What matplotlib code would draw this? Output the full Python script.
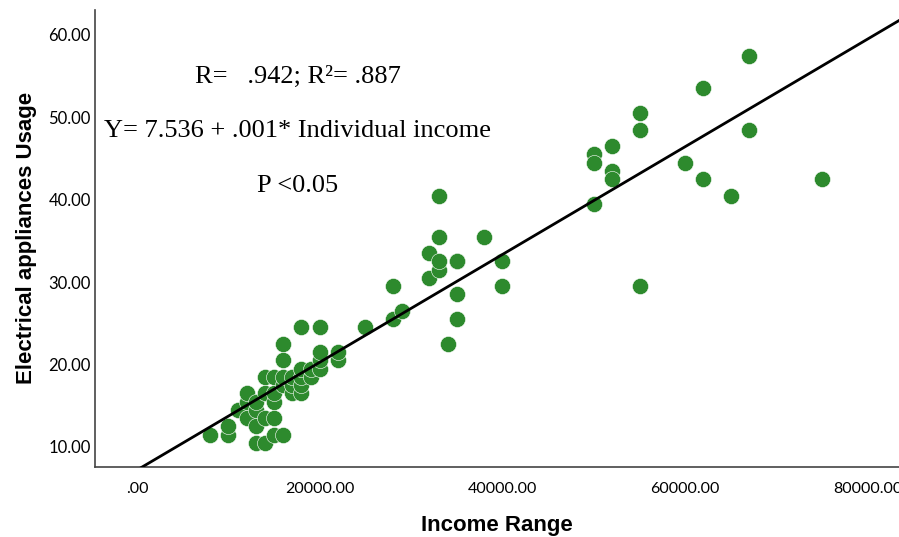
import numpy as np
import matplotlib
matplotlib.use('Agg')
import matplotlib.pyplot as plt

# income (x) and electrical appliances usage (y)
income = [8000, 10000, 10000, 11000, 12000, 12000, 12000,
          13000, 13000, 13000, 13000, 14000, 14000, 14000, 14000,
          15000, 15000, 15000, 15000, 15000, 16000, 16000, 16000,
          16000, 16000, 17000, 17000, 17000, 18000, 18000, 18000,
          18000, 18000, 19000, 19000, 20000, 20000, 20000, 20000,
          22000, 22000,
          25000, 28000, 28000, 29000, 32000, 32000, 33000, 33000,
          33000, 33000, 34000, 35000, 35000, 35000, 35000, 38000,
          40000, 40000,
          50000, 50000, 50000, 52000, 52000, 52000, 55000, 55000,
          55000, 60000, 62000, 62000, 65000, 67000, 67000, 75000]
usage = [11.5, 11.5, 12.5, 14.5, 13.5, 15.5, 16.5,
         10.5, 12.5, 14.5, 15.5, 10.5, 13.5, 16.5, 18.5,
         11.5, 13.5, 15.5, 16.5, 18.5, 11.5, 17.5, 18.5,
         20.5, 22.5, 16.5, 17.5, 18.5, 16.5, 17.5, 18.5,
         19.5, 24.5, 18.5, 19.5, 19.5, 20.5, 21.5, 24.5,
         20.5, 21.5,
         24.5, 25.5, 29.5, 26.5, 30.5, 33.5, 31.5, 32.5,
         35.5, 40.5, 22.5, 32.5, 28.5, 25.5, 32.5, 35.5,
         32.5, 29.5,
         45.5, 44.5, 39.5, 46.5, 43.5, 42.5, 50.5, 48.5,
         29.5, 44.5, 53.5, 42.5, 40.5, 57.5, 48.5, 42.5]

x_ticks = [0, 20000, 40000, 60000, 80000]
x_labels = ['.00', '20000.00', '40000.00', '60000.00', '80000.00']
y_ticks = [10, 20, 30, 40, 50, 60]
y_labels = ['10.00', '20.00', '30.00', '40.00', '50.00', '60.00']

fig = plt.figure(figsize=(8.99, 5.37), dpi=100)
ax = fig.add_axes([0.1057, 0.131, 0.8943, 0.85])

ax.scatter(income, usage, s=135, color='#2d8a2d', edgecolors='white',
           linewidths=0.4, zorder=3)

slope, intercept = np.polyfit(income, usage, 1)
xl = np.array([-5000, 90000])
ax.plot(xl, intercept + slope * xl, color='black', lw=2, zorder=4)

ax.set_xlim(-4600, 83400)
ax.set_ylim(7.6, 63.0)
ax.set_xticks(x_ticks)
ax.set_xticklabels(x_labels, fontfamily='Lato', fontsize=11.5)
ax.set_yticks(y_ticks)
ax.set_yticklabels(y_labels, fontfamily='Lato', fontsize=12)
ax.tick_params(length=0)
ax.tick_params(axis='y', pad=3)
ax.tick_params(axis='x', pad=11)
for s in ['top', 'right']:
    ax.spines[s].set_visible(False)
for s in ['left', 'bottom']:
    ax.spines[s].set_color('#444444')
    ax.spines[s].set_linewidth(1.2)

ax.set_xlabel('Income Range', fontfamily='Liberation Sans', fontweight='bold',
              fontsize=16, labelpad=14)
ax.set_ylabel('Electrical appliances Usage', fontfamily='Liberation Sans',
              fontweight='bold', fontsize=16, labelpad=8)

serif = 'Liberation Serif'
fig.text(298 / 899, 1 - 77 / 537, 'R=   .942; R²= .887', family=serif,
         fontsize=19, ha='center', va='center')
fig.text(298 / 899, 1 - 131 / 537, 'Y= 7.536 + .001* Individual income',
         family=serif, fontsize=19, ha='center', va='center')
fig.text(298 / 899, 1 - 186 / 537, 'P <0.05', family=serif, fontsize=19,
         ha='center', va='center')

plt.savefig('out.png', dpi=100)
